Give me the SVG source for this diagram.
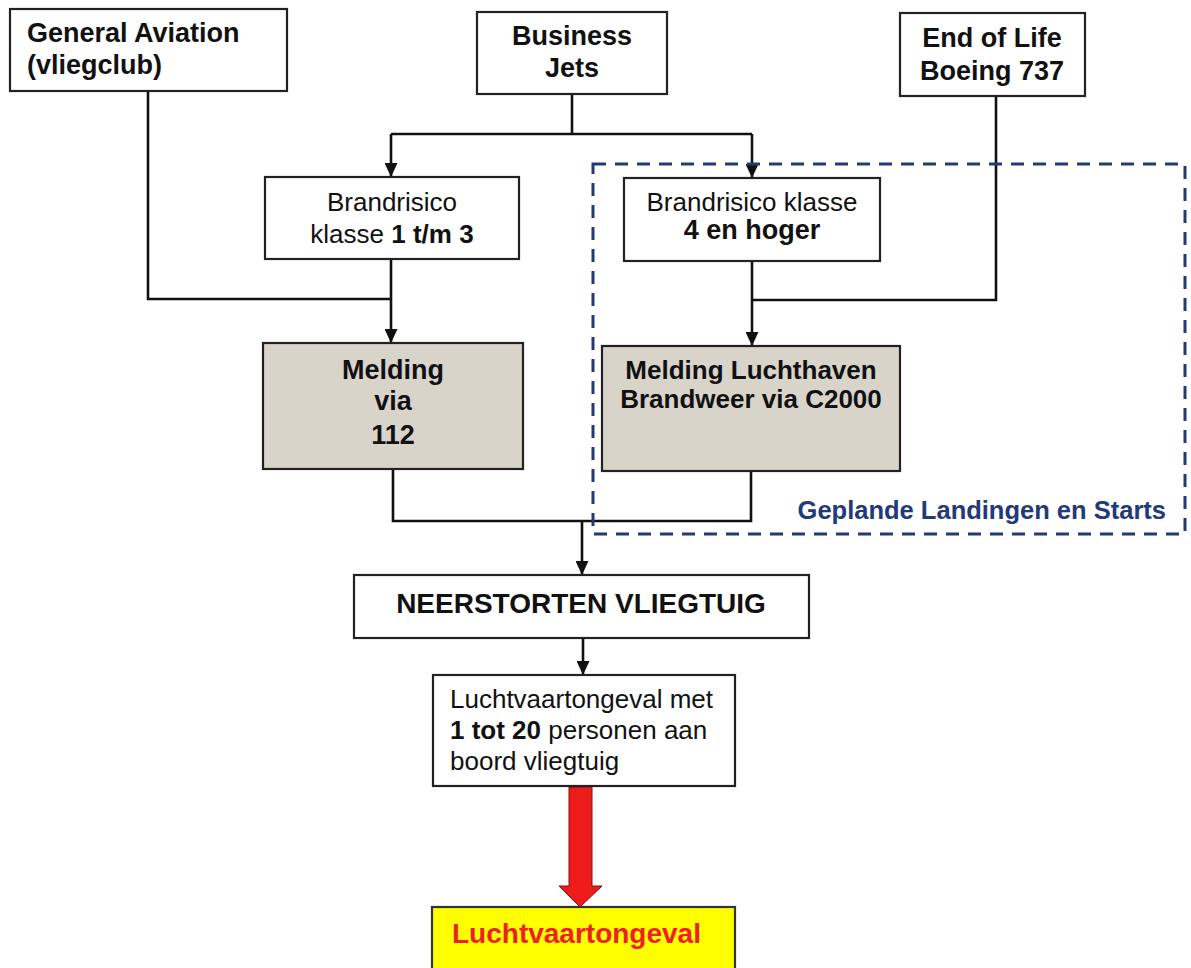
<svg xmlns="http://www.w3.org/2000/svg" width="1191" height="968" viewBox="0 0 1191 968">
<defs>
<style>
.box{fill:#fff;stroke:#222;stroke-width:2.2}
.grey{fill:#d9d4ca;stroke:#222;stroke-width:2.2}
.b{font-family:"Liberation Sans",Arial,sans-serif;font-weight:bold;font-size:27px;fill:#111}
.r{font-family:"Liberation Sans",Arial,sans-serif;font-size:26px;fill:#111}
.c{text-anchor:middle}
.ln{fill:none;stroke:#111;stroke-width:2.6}
.arr{fill:none;stroke:#111;stroke-width:2.6;marker-end:url(#ah)}
</style>
<marker id="ah" viewBox="0 0 14 13" refX="14" refY="6.5" markerWidth="14" markerHeight="13" markerUnits="userSpaceOnUse" orient="auto">
<path d="M0 0 L14 6.5 L0 13 Z" fill="#111"/>
</marker>
</defs>
<rect width="1191" height="968" fill="#fff"/>
<g id="connectors">
<path class="ln" d="M148 91 V299 H391"/>
<path class="ln" d="M572 94 V134 M391 134 H752"/>
<path class="arr" d="M391 134 V177"/>
<path class="arr" d="M752 134 V178"/>
<path class="arr" d="M391 259 V343"/>
<path class="ln" d="M996 96 V300 H752"/>
<path class="arr" d="M752 261 V346"/>
<path class="ln" d="M393 469 V521 H751 V471"/>
<path class="arr" d="M582 521 V575"/>
<path class="arr" d="M583 638 V675"/>
<polygon points="569,787 592,787 592,886 602,886 580,907 559,886 569,886" fill="#ee1b1b" stroke="#8a1010" stroke-width="1"/>
</g>
<g id="region">
<rect x="593" y="164" width="592" height="370" fill="none" stroke="#233a72" stroke-width="3" stroke-dasharray="13 9"/>
<text x="1166" y="519" text-anchor="end" style="font-family:'Liberation Sans',Arial,sans-serif;font-weight:bold;font-size:25.5px;fill:#22397a">Geplande Landingen en Starts</text>
</g>
<g id="general-aviation">
<rect class="box" x="10" y="9" width="277" height="82"/>
<text class="b" x="27" y="42">General Aviation</text>
<text class="b" x="27" y="74">(vliegclub)</text>
</g>
<g id="business-jets">
<rect class="box" x="477" y="12" width="190" height="82"/>
<text class="b c" x="572" y="45">Business</text>
<text class="b c" x="572" y="77">Jets</text>
</g>
<g id="end-of-life">
<rect class="box" x="900" y="13" width="185" height="83"/>
<text class="b c" x="992" y="47">End of Life</text>
<text class="b c" x="992" y="80">Boeing 737</text>
</g>
<g id="brand-1-3">
<rect class="box" x="265" y="177" width="254" height="82"/>
<text class="r c" x="392" y="211">Brandrisico</text>
<text class="r c" x="392" y="243">klasse <tspan font-weight="bold">1 t/m 3</tspan></text>
</g>
<g id="brand-4">
<rect class="box" x="624" y="178" width="256" height="83"/>
<text class="r c" x="752" y="211">Brandrisico klasse</text>
<text class="b c" x="752" y="239">4 en hoger</text>
</g>
<g id="melding-112">
<rect class="grey" x="263" y="343" width="260" height="126"/>
<text class="b c" x="393" y="379">Melding</text>
<text class="b c" x="393" y="410">via</text>
<text class="b c" x="393" y="444">112</text>
</g>
<g id="melding-luchthaven">
<rect class="grey" x="602" y="346" width="298" height="125"/>
<text class="b c" x="751" y="379" style="font-size:26px">Melding Luchthaven</text>
<text class="b c" x="751" y="408" style="font-size:26px">Brandweer via C2000</text>
</g>
<g id="neerstorten">
<rect class="box" x="354" y="575" width="455" height="63"/>
<text class="b c" x="581" y="613" style="font-size:28px">NEERSTORTEN VLIEGTUIG</text>
</g>
<g id="ongeval-1-20">
<rect class="box" x="433" y="675" width="302" height="111"/>
<text class="r" x="450" y="708">Luchtvaartongeval met</text>
<text class="r" x="450" y="739"><tspan font-weight="bold">1 tot 20</tspan> personen aan</text>
<text class="r" x="450" y="770">boord vliegtuig</text>
</g>
<g id="luchtvaartongeval">
<rect x="432" y="907" width="303" height="75" fill="#ffff00" stroke="#333" stroke-width="2.2"/>
<text x="452" y="943" style="font-family:'Liberation Sans',Arial,sans-serif;font-weight:bold;font-size:28px;fill:#ee2020">Luchtvaartongeval</text>
</g>
</svg>
